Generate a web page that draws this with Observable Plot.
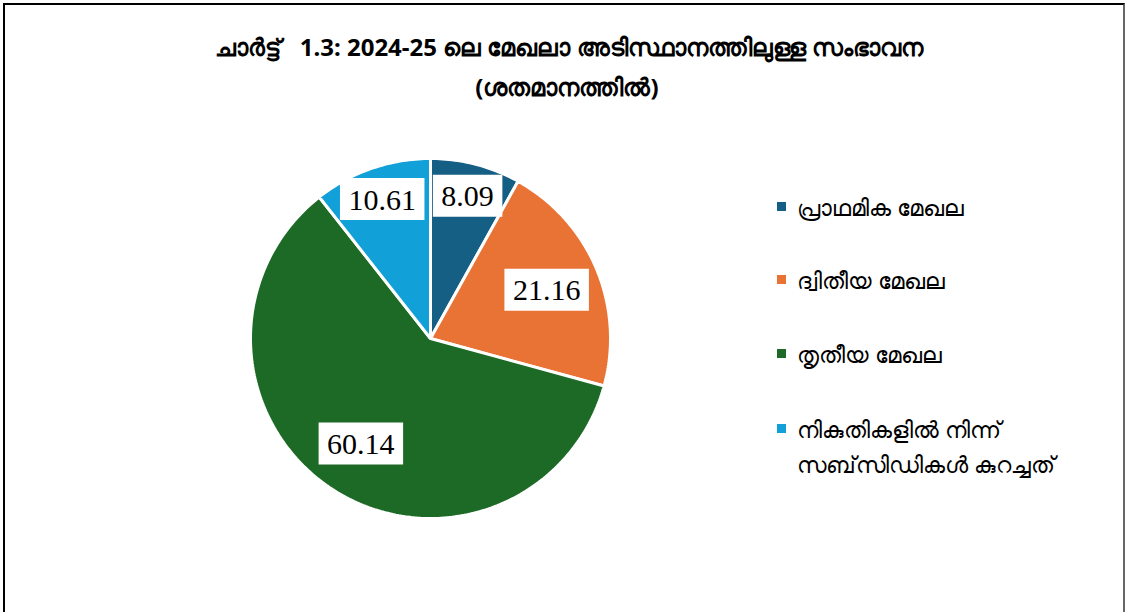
<!DOCTYPE html>
<html><head><meta charset="utf-8">
<script src="https://cdn.jsdelivr.net/npm/d3@7"></script>
<script src="https://cdn.jsdelivr.net/npm/@observablehq/plot@0.6"></script>
<style>
body{margin:0;background:#fff;}
#frame{position:relative;width:1126px;height:612px;overflow:hidden;background:#fff;font-family:"Noto Sans","DejaVu Sans",sans-serif;color:#000;}
#border{position:absolute;left:3px;top:3px;width:1118px;height:660px;border-left:2px solid #000;border-top:2px solid #000;border-right:2px solid #666;pointer-events:none;}
#title{position:absolute;left:0;top:0;width:1126px;height:110px;text-align:center;font-weight:bold;font-size:24px;line-height:30px;}
#title .l1{position:absolute;left:0;width:1138px;top:32px;}
#title .l2{position:absolute;left:0;width:1134px;top:72px;}
#chart{position:absolute;left:0;top:110px;}
#legend{position:absolute;left:777px;top:0;font-size:23px;}
.item{position:absolute;left:0;white-space:nowrap;}
.sw{position:absolute;left:0;width:9px;height:9px;}
.lt{position:absolute;left:20px;line-height:35px;}
</style></head>
<body>
<div id="frame">
  <div id="title"><div class="l1">ചാർട്ട്&nbsp;&nbsp; 1.3: 2024-25 ലെ മേഖലാ അടിസ്ഥാനത്തിലുള്ള സംഭാവന</div><div class="l2">(ശതമാനത്തിൽ)</div></div>
  <div id="chart"></div>
  <div id="legend"></div>
  <div id="border"></div>
</div>
<script>
const sectors = ["പ്രാഥമിക മേഖല", "ദ്വിതീയ മേഖല", "തൃതീയ മേഖല", "നികുതികളിൽ നിന്ന് സബ്‌സിഡികൾ കുറച്ചത്"];
const legendLines = [["പ്രാഥമിക മേഖല"], ["ദ്വിതീയ മേഖല"], ["തൃതീയ മേഖല"], ["നികുതികളിൽ നിന്ന്", "സബ്‌സിഡികൾ കുറച്ചത്"]];
const shares = [8.09, 21.16, 60.14, 10.61];
const colors = ["#165F84", "#E97334", "#1C6A25", "#12A0D8"];

const rows = sectors.map((s, i) => ({sector: s, value: shares[i]}));

const W = 1126, H = 502, cx = 430, cy = 228, R = 180;
const pt = (a, r) => [cx + r * Math.sin(a), cy - r * Math.cos(a)];
const arcs = d3.pie().sort(null).value(d => d.value)(rows);

const slices = arcs.map(a => {
  const ring = [pt(0, 0)];
  const n = Math.max(2, Math.ceil((a.endAngle - a.startAngle) / (Math.PI / 180)));
  for (let i = 0; i <= n; i++) ring.push(pt(a.startAngle + (a.endAngle - a.startAngle) * i / n, R));
  ring.push(pt(0, 0));
  return {type: "Feature", properties: {sector: a.data.sector}, geometry: {type: "Polygon", coordinates: [ring]}};
});

const labels = arcs.map(a => {
  const mid = (a.startAngle + a.endAngle) / 2;
  const rl = a.data.value < 15 ? 0.82 * R : 0.7 * R;
  const [x, y] = pt(mid, rl);
  const text = a.data.value.toFixed(2);
  return {x, y, text};
});

const boxes = labels.map(l => {
  const w = l.text.length * 15 - 7.5 + 17, h = 42;
  const x0 = l.x - w / 2, x1 = l.x + w / 2, y0 = l.y - h / 2, y1 = l.y + h / 2;
  return {type: "Feature", properties: {}, geometry: {type: "Polygon", coordinates: [[[x0, y0], [x1, y0], [x1, y1], [x0, y1], [x0, y0]]]}};
});

const chart = Plot.plot({
  width: W, height: H, margin: 0,
  projection: {type: "identity"},
  color: {domain: sectors, range: colors},
  marks: [
    Plot.geo(slices, {fill: d => d.properties.sector, stroke: "white", strokeWidth: 3, strokeLinejoin: "bevel"}),
    Plot.geo(boxes, {fill: "white"}),
    Plot.text(labels, {x: "x", y: "y", text: "text", fontSize: 30, fontFamily: "Liberation Serif, Times New Roman, serif", fill: "black", dy: 1})
  ]
});
document.getElementById("chart").appendChild(chart);

const legend = document.getElementById("legend");
const tops = [190, 263, 337, 412];
legendLines.forEach((lines, i) => {
  const it = document.createElement("div");
  it.className = "item";
  it.style.top = tops[i] + "px";
  const sw = document.createElement("div");
  sw.className = "sw";
  sw.style.background = colors[i];
  sw.style.top = "12px";
  it.appendChild(sw);
  const t = document.createElement("div");
  t.className = "lt";
  t.innerHTML = lines.join("<br>");
  it.appendChild(t);
  legend.appendChild(it);
});
</script>
</body></html>
